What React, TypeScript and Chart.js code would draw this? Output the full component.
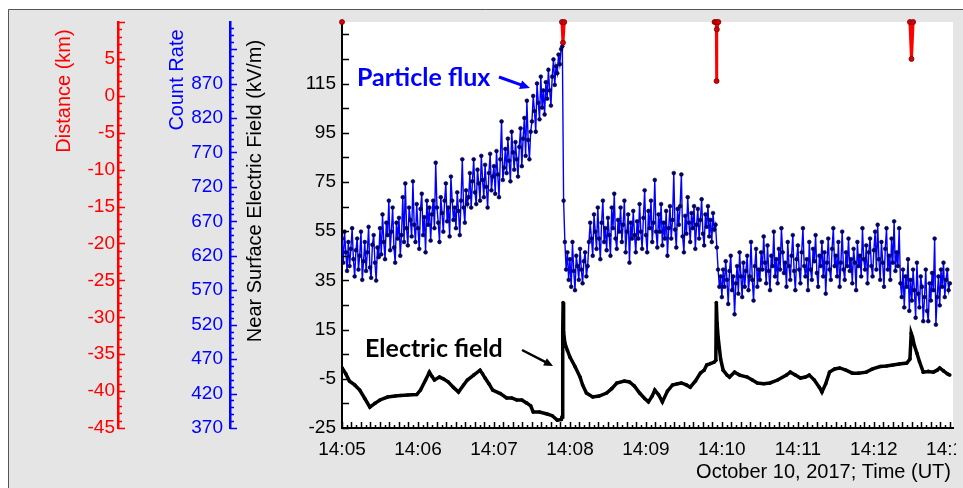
import React, { useEffect, useRef } from 'react';
import { Chart, registerables } from 'chart.js';

Chart.register(...registerables);

// ---------------- data ----------------
// x axis: seconds after 14:05:00 UT, October 10, 2017
const X_MAX_S = 482.5;
const X_TICK_SECONDS = [0, 60, 120, 180, 240, 300, 360, 420, 480];
const X_TICK_LABELS = ['14:05', '14:06', '14:07', '14:08', '14:09', '14:10', '14:11', '14:12', '14:13'];

// Particle flux (count rate), one sample per second starting 14:05:00
const COUNT_STEP_S = 1;
const countRate = [
  645, 610, 655, 625, 598, 640, 605, 630, 660, 615,
  590, 628, 645, 600, 620, 655, 585, 612, 640, 598,
  625, 662, 603, 588, 636, 650, 610, 584, 632, 618,
  660, 622, 680, 640, 615, 668, 650, 700, 628, 655,
  690, 632, 610, 668, 645, 675, 620, 650, 705, 640,
  725, 660, 635, 690, 672, 648, 728, 665, 640, 695,
  660, 630, 688, 710, 650, 676, 625, 700, 665, 690,
  642, 680, 700, 660, 755, 690, 668, 640, 705, 682,
  655, 700, 725, 670, 690, 648, 735, 700, 672, 690,
  660, 712, 685, 650, 700, 760, 690, 668, 715, 695,
  705, 740, 690, 728, 760, 712, 695, 745, 725, 700,
  765, 730, 705, 752, 720, 690, 740, 768, 715, 735,
  750, 710, 772, 738, 705, 760, 815, 730, 748, 775,
  740, 790, 758, 728, 800, 770, 745, 785, 760, 735,
  778, 805, 750, 790, 820, 765, 845, 788, 760, 800,
  815, 852, 830, 800, 870, 842, 818, 880, 835, 860,
  825, 872, 848, 890, 860, 838, 880, 905, 868, 895,
  885, 912, 898, 920, 924, 700, 640, 600, 625, 585,
  615, 575, 640, 598, 570, 620, 605, 585, 630, 600,
  580, 612, 625, 590, 605, 640, 668, 645, 620, 680,
  655, 630, 690, 645, 615, 668, 700, 640, 660, 628,
  675, 650, 620, 690, 660, 710, 645, 630, 672, 655,
  690, 640, 665, 700, 625, 655, 680, 610, 668, 645,
  685, 650, 625, 670, 645, 695, 655, 630, 675, 715,
  650, 625, 685, 660, 700, 640, 668, 730, 655, 632,
  680, 655, 695, 635, 668, 645, 685, 620, 660, 692,
  645, 672, 740, 658, 632, 688, 665, 692, 738, 648,
  625, 678, 652, 705, 668, 640, 682, 660, 692, 630,
  665, 688, 645, 672, 702, 652, 635, 680, 662, 692,
  648, 672, 640, 682, 658, 665, 632, 600, 575, 590,
  560, 600, 575, 612, 585, 550, 598, 620, 570, 590,
  535, 580, 605, 565, 625, 590, 560, 610, 575, 598,
  620, 570, 590, 640, 585, 555, 605, 630, 575, 600,
  585, 625, 600, 648, 610, 580, 635, 598, 570, 620,
  605, 655, 590, 615, 580, 630, 600, 660, 625, 595,
  610, 575, 640, 605, 585, 620, 650, 598, 570, 615,
  635, 600, 580, 625, 660, 605, 590, 615, 570, 640,
  600, 585, 630, 612, 650, 595, 575, 620, 605, 640,
  590, 625, 565, 610, 645, 600, 585, 630, 660, 605,
  620, 590, 640, 575, 610, 655, 600, 585, 625, 605,
  645, 598, 615, 580, 630, 610, 570, 640, 605, 620,
  590, 660, 615, 600, 635, 580, 625, 645, 605, 590,
  628, 655, 600, 665, 615, 585, 640, 610, 575, 630,
  660, 600, 620, 585, 645, 610, 670, 598, 625, 605,
  660, 580, 560, 600, 545, 590, 575, 615, 540, 585,
  555, 600, 570, 530, 610, 565, 545, 590, 575, 525,
  560, 600, 540, 525, 580, 555, 595, 570, 645, 520,
  560, 590, 548, 600, 575, 610, 560, 585, 600, 570,
  580,
];

// Near surface electric field (kV/m)
const efieldTimes = [
  0, 3, 6, 10, 14, 18, 22, 26, 30, 36,
  42, 46, 52, 59, 62, 66, 69, 71, 73, 77,
  80, 84, 88, 92, 96, 99, 104, 109, 111, 113,
  116, 119, 125, 130, 134, 138, 142, 146, 149, 151,
  156, 162, 166, 170, 173.2, 173.8, 174.3, 174.6, 175, 176,
  178, 180, 184, 188, 190, 193, 198, 203, 209, 213,
  217, 223, 227, 231, 235, 239, 242, 245, 247, 250,
  253, 257, 261, 265, 268, 272, 275, 279, 283, 286,
  288, 291, 294, 295.2, 295.6, 296.2, 297, 299, 301, 304,
  306, 310, 314, 320, 324, 328, 333, 338, 344, 351,
  354, 358, 362, 366, 369, 373, 377, 379, 382, 385,
  389, 393, 398, 403, 408, 414, 419, 425, 430, 435,
  440, 446, 448.5, 449.5, 450.5, 452, 454, 456, 459, 463,
  467, 470, 472, 475, 478, 480,
];
const efieldValues = [
  -0.5, -3, -6, -7.5, -9.6, -13, -16.5, -15, -13.6, -12.4,
  -12, -11.8, -11.6, -11.4, -9.6, -5.5, -2.3, -4, -5.5, -4.3,
  -5, -6.3, -8.5, -10.4, -7.5, -5.5, -3.5, -1.5, -3, -4.7,
  -7, -9.6, -11, -12.8, -12.8, -13.6, -13.6, -14.9, -16, -18.5,
  -18.5, -19.3, -20, -21.8, -21.5, -20.5, 14, 26, 14, 9.5,
  6.5, 3.8, 0, -4.3, -7.5, -10.8, -12.4, -12, -10.8, -9,
  -6.7, -5.9, -6.3, -8, -10.8, -13, -14.4, -12, -9.6, -11.5,
  -14.4, -10, -7.5, -7, -6.7, -7.5, -8.4, -6, -2.7, -1.5,
  0.6, 1.2, 1.8, 2.5, 26, 17.6, 12, 3, -1.5, -3.5,
  -4.3, -2.3, -3.5, -4.3, -5.5, -6.7, -7, -6.7, -5.5, -3.5,
  -2.3, -3.5, -4.7, -4.3, -3.5, -5.5, -8.5, -10.4, -7, -2.3,
  -1, -0.6, -1.5, -2.7, -2.7, -2.3, -1, 0, 0.2, 0.6,
  1, 1.4, 3, 13.5, 12, 8.5, 5.4, 2, -2.3, -2,
  -2.3, -1.5, -0.6, -1.8, -3, -3.5,
];

// Lightning distance (km); null separates strokes
const distTimes = [0, 1, 173.7, 174.5, 175.5, 200, 294.2, 295.6, 295.8, 296.0, 297.2, 320, 448.5, 449.7, 451];
const distValues = [10, null, 10, 7.2, 10, null, 10, 10, 2.0, 9.0, 10, null, 10, 5.0, 10];

// axis ranges / ticks
const E_MIN = -25, E_MAX = 140;
const E_LABELS = [-25, -5, 15, 35, 55, 75, 95, 115];
const COUNT_MIN = 370, COUNT_MAX = 370 + (165 * 500) / 140;
const COUNT_LABELS = [370, 420, 470, 520, 570, 620, 670, 720, 770, 820, 870];
const DIST_MIN = -45, DIST_MAX = 10;
const DIST_LABELS = [-45, -40, -35, -30, -25, -20, -15, -10, -5, 0, 5];

// ---------------- styling ----------------
const W = 963, H = 488;
const GRAY = '#e5e5e5';
const SANS = '"Liberation Sans", Arial, sans-serif';
const RED = '#ff0000';
const BLUE = '#0000ff';

function arrow(ctx: CanvasRenderingContext2D, x1: number, y1: number, x2: number, y2: number, color: string, lw: number, head: number) {
  const ang = Math.atan2(y2 - y1, x2 - x1);
  ctx.save();
  ctx.strokeStyle = color;
  ctx.fillStyle = color;
  ctx.lineWidth = lw;
  ctx.beginPath();
  ctx.moveTo(x1, y1);
  ctx.lineTo(x2 - Math.cos(ang) * head * 0.8, y2 - Math.sin(ang) * head * 0.8);
  ctx.stroke();
  ctx.beginPath();
  ctx.moveTo(x2, y2);
  ctx.lineTo(x2 - head * Math.cos(ang) + head * 0.45 * Math.sin(ang), y2 - head * Math.sin(ang) - head * 0.45 * Math.cos(ang));
  ctx.lineTo(x2 - head * Math.cos(ang) - head * 0.45 * Math.sin(ang), y2 - head * Math.sin(ang) + head * 0.45 * Math.cos(ang));
  ctx.closePath();
  ctx.fill();
  ctx.restore();
}

const decorPlugin = {
  id: 'decor',
  beforeDraw(chart: any) {
    const ctx = chart.ctx as CanvasRenderingContext2D;
    const ca = chart.chartArea;
    ctx.save();
    ctx.fillStyle = '#ffffff';
    ctx.fillRect(0, 0, W, H);
    ctx.fillStyle = GRAY;
    ctx.fillRect(8, 9, W - 8, H - 9);
    ctx.strokeStyle = '#555555';
    ctx.lineWidth = 1;
    ctx.beginPath();
    ctx.moveTo(8.5, H);
    ctx.lineTo(8.5, 9.5);
    ctx.lineTo(W, 9.5);
    ctx.stroke();
    ctx.fillStyle = '#ffffff';
    ctx.fillRect(ca.left, ca.top, ca.right - ca.left, ca.bottom - ca.top);
    ctx.restore();
  },
  afterDraw(chart: any) {
    const ctx = chart.ctx as CanvasRenderingContext2D;
    const ca = chart.chartArea;
    const sx = chart.scales.x, sE = chart.scales.y, sC = chart.scales.yCount, sD = chart.scales.yDist;
    ctx.save();
    // clip the last time label just past the plot's right edge
    ctx.fillStyle = GRAY;
    ctx.fillRect(ca.right + 3, 10, W - ca.right - 3, H - 10);

    ctx.lineWidth = 1.5;
    // time axis ticks (inward)
    ctx.strokeStyle = '#000';
    ctx.beginPath();
    for (let i = 0; i * 3.75 <= X_MAX_S; i++) {
      const px = Math.round(sx.getPixelForValue(i * 3.75)) + 0.5;
      const len = i % 2 === 0 ? 6 : 3;
      ctx.moveTo(px, ca.bottom);
      ctx.lineTo(px, ca.bottom - len);
    }
    ctx.stroke();
    // electric field axis ticks (inward)
    ctx.beginPath();
    for (let v = E_MIN; v <= E_MAX; v += 10) {
      const py = Math.round(sE.getPixelForValue(v)) + 0.5;
      ctx.moveTo(ca.left, py);
      ctx.lineTo(ca.left + 7, py);
    }
    ctx.stroke();
    // count rate ticks
    ctx.strokeStyle = BLUE;
    ctx.beginPath();
    for (let v = COUNT_MIN; v <= COUNT_MAX; v += 10) {
      const py = Math.round(sC.getPixelForValue(v)) + 0.5;
      const len = (v - COUNT_MIN) % 50 === 0 ? 7 : 4;
      ctx.moveTo(sC.right, py);
      ctx.lineTo(sC.right + len, py);
    }
    ctx.stroke();
    // distance ticks
    ctx.strokeStyle = RED;
    ctx.beginPath();
    for (let v = DIST_MIN; v <= DIST_MAX; v += 1) {
      const py = Math.round(sD.getPixelForValue(v)) + 0.5;
      const len = v % 5 === 0 ? 7 : 4;
      ctx.moveTo(sD.right, py);
      ctx.lineTo(sD.right + len, py);
    }
    ctx.stroke();

    // axis titles
    const vtitle = (text: string, x: number, y: number, color: string) => {
      ctx.save();
      ctx.translate(x, y);
      ctx.rotate(-Math.PI / 2);
      ctx.fillStyle = color;
      ctx.font = `20px ${SANS}`;
      ctx.textAlign = 'center';
      ctx.textBaseline = 'middle';
      ctx.fillText(text, 0, 0);
      ctx.restore();
    };
    vtitle('Distance (km)', 64, 91, RED);
    vtitle('Count Rate', 177, 80, BLUE);
    vtitle('Near Surface Electric Field (kV/m)', 255, 191, '#000');

    ctx.fillStyle = '#000';
    ctx.font = `20px ${SANS}`;
    ctx.textAlign = 'right';
    ctx.textBaseline = 'middle';
    ctx.fillText('October 10, 2017; Time (UT)', 951, 472);

    // annotations
    ctx.textAlign = 'left';
    ctx.textBaseline = 'alphabetic';
    ctx.font = `bold 25px Lato, "Open Sans", sans-serif`;
    ctx.fillStyle = BLUE;
    ctx.fillText('Particle flux', 357, 86);
    ctx.fillStyle = '#000';
    ctx.fillText('Electric field', 365, 357);
    arrow(ctx, 499, 77, 530, 88, BLUE, 3, 10);
    arrow(ctx, 522, 350, 553, 366, '#000', 2.5, 9);
    ctx.restore();
  },
};

export default function App() {
  const ref = useRef<HTMLCanvasElement>(null);
  useEffect(() => {
    const countData = countRate.map((v, i) => ({ x: i * COUNT_STEP_S, y: v }));
    const efieldData = efieldTimes.map((t, i) => ({ x: t, y: efieldValues[i] }));
    const distData = distTimes.map((t, i) => ({ x: t, y: distValues[i] }));
    const tickFont = { family: SANS, size: 19 };
    const noGrid = { display: false, drawTicks: false };
    const chart = new Chart(ref.current as HTMLCanvasElement, {
      type: 'line',
      data: {
        datasets: [
          {
            label: 'Distance',
            data: distData as any,
            yAxisID: 'yDist',
            borderColor: RED,
            borderWidth: 3,
            pointRadius: 2.5,
            pointBackgroundColor: '#dd0000',
            pointBorderColor: '#700000',
            pointBorderWidth: 0.8,
            tension: 0,
            spanGaps: false,
            clip: false as any,
            order: 0,
          },
          {
            label: 'Particle flux',
            data: countData as any,
            yAxisID: 'yCount',
            borderColor: BLUE,
            borderWidth: 1.4,
            pointRadius: 1.9,
            pointBackgroundColor: '#00007a',
            pointBorderColor: '#000033',
            pointBorderWidth: 0.6,
            tension: 0,
            order: 1,
          },
          {
            label: 'Electric field',
            data: efieldData as any,
            yAxisID: 'y',
            borderColor: '#000',
            borderWidth: 3.5,
            pointRadius: 1.8,
            pointBackgroundColor: '#000',
            pointBorderColor: '#000',
            pointBorderWidth: 0,
            tension: 0,
            order: 2,
          },
        ],
      },
      options: {
        responsive: false,
        animation: false,
        devicePixelRatio: 1,
        layout: { padding: { left: 0, top: 22, right: 10, bottom: 0 } },
        plugins: { legend: { display: false }, tooltip: { enabled: false } },
        scales: {
          x: {
            type: 'linear',
            position: 'bottom',
            min: 0,
            max: X_MAX_S,
            grid: noGrid,
            border: { display: true, color: '#000', width: 2 },
            afterBuildTicks: (s: any) => { s.ticks = X_TICK_SECONDS.map((v) => ({ value: v })); },
            afterFit: (s: any) => { s.height = 60; s.paddingLeft = 0; s.paddingRight = 0; },
            ticks: {
              autoSkip: false,
              maxRotation: 0,
              padding: 10,
              color: '#000',
              font: { family: SANS, size: 19 },
              callback: (_v: any, i: number) => X_TICK_LABELS[i],
            },
          },
          y: {
            type: 'linear',
            position: 'left',
            weight: 0,
            min: E_MIN,
            max: E_MAX,
            grid: noGrid,
            border: { display: true, color: '#000', width: 2 },
            afterBuildTicks: (s: any) => { s.ticks = E_LABELS.map((v) => ({ value: v })); },
            afterFit: (s: any) => { s.width = 112; s.paddingTop = 0; s.paddingBottom = 0; },
            ticks: { padding: 6, color: '#000', font: tickFont },
          },
          yCount: {
            type: 'linear',
            position: 'left',
            weight: 1,
            min: COUNT_MIN,
            max: COUNT_MAX,
            grid: noGrid,
            border: { display: true, color: BLUE, width: 2.5 },
            afterBuildTicks: (s: any) => { s.ticks = COUNT_LABELS.map((v) => ({ value: v })); },
            afterFit: (s: any) => { s.width = 112; s.paddingTop = 0; s.paddingBottom = 0; },
            ticks: { padding: 7, color: BLUE, font: tickFont },
          },
          yDist: {
            type: 'linear',
            position: 'left',
            weight: 2,
            min: DIST_MIN,
            max: DIST_MAX,
            grid: noGrid,
            border: { display: true, color: RED, width: 2.5 },
            afterBuildTicks: (s: any) => { s.ticks = DIST_LABELS.map((v) => ({ value: v })); },
            afterFit: (s: any) => { s.width = 118; s.paddingTop = 0; s.paddingBottom = 0; },
            ticks: { padding: 3, color: RED, font: tickFont },
          },
        },
      } as any,
      plugins: [decorPlugin],
    });
    return () => chart.destroy();
  }, []);
  return (
    <div style={{ position: 'fixed', left: 0, top: 0, width: W, height: H }}>
      <canvas ref={ref} width={W} height={H} style={{ display: 'block', width: W, height: H }} />
    </div>
  );
}
